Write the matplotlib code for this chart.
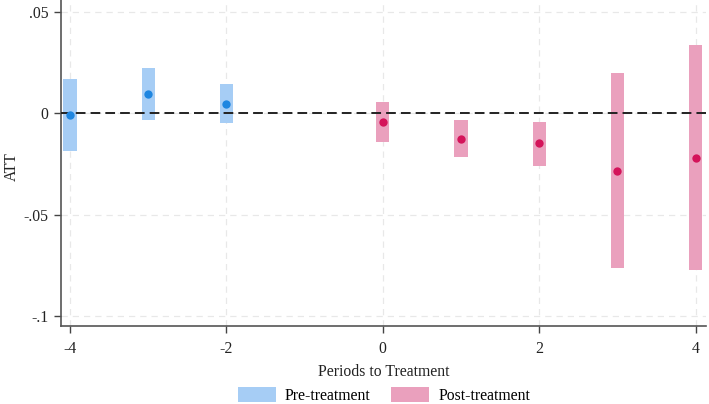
import matplotlib
matplotlib.use("Agg")
import matplotlib.pyplot as plt
from matplotlib.patches import Patch

# Data
pre_periods = [-4, -3, -2]
pre_att = [-0.0008, 0.0094, 0.0046]
pre_lo = [-0.0188, -0.0033, -0.0050]
pre_hi = [0.0168, 0.0223, 0.0144]

post_periods = [0, 1, 2, 3, 4]
post_att = [-0.0044, -0.0125, -0.0148, -0.0284, -0.0218]
post_lo = [-0.0141, -0.0217, -0.0259, -0.0764, -0.0772]
post_hi = [0.0057, -0.0034, -0.0042, 0.0198, 0.0336]

xticks = [-4, -2, 0, 2, 4]
yticks = [-0.1, -0.05, 0, 0.05]
yticklabels = ["-.1", "-.05", "0", ".05"]

pre_bar = "#a6cdf5"
pre_pt = "#1f86e0"
post_bar = "#eaa0bd"
post_pt = "#d4145a"

plt.rcParams['font.family'] = ['Liberation Serif', 'DejaVu Serif']

fig = plt.figure(figsize=(7.09, 4.04), dpi=100)
ax = fig.add_axes([61/709, 1 - 326/404, (706 - 61)/709, 326/404])

w = 0.17
ax.bar(pre_periods, [h - l for h, l in zip(pre_hi, pre_lo)], bottom=pre_lo,
       width=w, color=pre_bar, zorder=2, linewidth=0)
ax.bar(post_periods, [h - l for h, l in zip(post_hi, post_lo)], bottom=post_lo,
       width=w, color=post_bar, zorder=2, linewidth=0)
ax.scatter(pre_periods, pre_att, s=36, color=pre_pt, zorder=4, linewidths=0)
ax.scatter(post_periods, post_att, s=36, color=post_pt, zorder=4, linewidths=0)

ax.axhline(0, color="#222222", linestyle=(0, (5, 2.6)), linewidth=1.4, zorder=3)

ax.set_xlim(-4.115, 4.133)
ax.set_ylim(-0.1049, 0.0559)
ax.set_xticks(xticks)
ax.set_xticklabels([str(t) for t in xticks])
ax.set_yticks(yticks)
ax.set_yticklabels(yticklabels)

ax.grid(True, color="#e8e8e8", linestyle=(0, (5, 4)), linewidth=0.9, zorder=0)
for s in ["top", "right"]:
    ax.spines[s].set_visible(False)
for s in ["left", "bottom"]:
    ax.spines[s].set_color("#555555")
    ax.spines[s].set_linewidth(1.2)
ax.tick_params(axis="both", labelsize=11.3, length=5, width=1, color="#444444",
               direction="out", pad=4, labelcolor="#222222")
ax.tick_params(axis="x", pad=6)

ax.set_xlabel("Periods to Treatment", fontsize=11.3, color="#222222", labelpad=5)
ax.set_ylabel("ATT", fontsize=11.3, color="#222222")
ax.yaxis.set_label_coords((20 - 61) / 645, 0.49)

handles = [Patch(facecolor=pre_bar, edgecolor="none", label="Pre-treatment"),
           Patch(facecolor=post_bar, edgecolor="none", label="Post-treatment")]
fig.legend(handles=handles, loc="lower center", bbox_to_anchor=(384/709, -0.035),
           ncol=2, frameon=False, fontsize=11.3, handlelength=2.4, handleheight=1.1,
           handletextpad=0.6, columnspacing=1.3)

fig.savefig("out.png", dpi=100)
